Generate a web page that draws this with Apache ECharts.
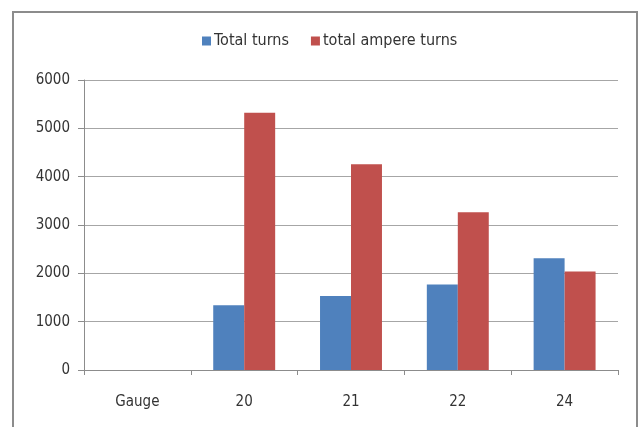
<!DOCTYPE html>
<html>
<head>
<meta charset="utf-8">
<script src="https://cdn.jsdelivr.net/npm/echarts@6/dist/echarts.min.js"></script>
<style>html,body{margin:0;padding:0;background:#fff}#c{width:639px;height:427px}</style>
</head>
<body>
<div id="c"></div>
<script>
const categories = ['Gauge', '20', '21', '22', '24'];
const totalTurns = [null, 1340, 1532, 1768, 2313];
const totalAmpereTurns = [null, 5320, 4259, 3265, 2037];
const yTicks = { min: 0, max: 6000, interval: 1000 };

const FONT = "'Liberation Sans Narrow', 'DejaVu Sans Condensed', 'Open Sans', sans-serif";
const chart = echarts.init(document.getElementById('c'), null, { renderer: 'canvas' });
chart.setOption({
  animation: false,
  backgroundColor: '#fff',
  graphic: [{
    type: 'rect', shape: { x: 13, y: 12, width: 624, height: 440 },
    style: { fill: 'none', stroke: '#8c8c8c', lineWidth: 2 }, silent: true
  }],
  legend: {
    top: 28, left: 197, itemWidth: 9, itemHeight: 9, itemGap: 22,
    icon: 'rect',
    textStyle: { fontFamily: FONT, fontSize: 16, color: '#333', padding: [0, 0, 0, -2] },
    data: ['Total turns', 'total ampere turns']
  },
  grid: { left: 84, right: 21, top: 80, bottom: 57, containLabel: false },
  xAxis: {
    type: 'category', data: categories,
    axisLine: { lineStyle: { color: '#8c8c8c', width: 1 } },
    axisTick: { show: true, alignWithLabel: false, length: 5, lineStyle: { color: '#8c8c8c' } },
    axisLabel: { fontFamily: FONT, fontSize: 15, color: '#333', margin: 25 }
  },
  yAxis: {
    type: 'value', min: yTicks.min, max: yTicks.max, interval: yTicks.interval,
    axisLine: { show: true, lineStyle: { color: '#8c8c8c' } },
    axisTick: { show: true, length: 6, lineStyle: { color: '#8c8c8c' } },
    splitLine: { lineStyle: { color: '#a6a6a6', width: 1 } },
    axisLabel: { fontFamily: FONT, fontSize: 15, color: '#333', margin: 14, formatter: v => String(v) }
  },
  series: [
    { name: 'Total turns', type: 'bar', data: totalTurns, barGap: '0%', barCategoryGap: '42%',
      itemStyle: { color: '#4f81bd' } },
    { name: 'total ampere turns', type: 'bar', data: totalAmpereTurns, barGap: '0%', barCategoryGap: '42%',
      itemStyle: { color: '#c0504d' } }
  ]
});
</script>
</body>
</html>
